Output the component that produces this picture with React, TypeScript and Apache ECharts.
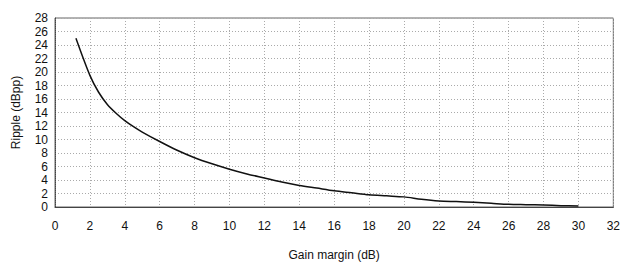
import React, { useEffect, useRef } from "react";
import * as echarts from "echarts";

const gainMargin = [1.2, 2, 2.5, 3, 3.5, 4, 4.5, 5, 6, 7, 8, 9, 10, 11, 12, 13, 14, 15, 16, 17, 18, 19, 20, 21, 22, 23, 24, 25, 26, 27, 28, 29, 30];
const ripple = [25, 19.5, 17, 15.2, 13.9, 12.8, 11.9, 11.1, 9.7, 8.4, 7.3, 6.4, 5.6, 4.9, 4.3, 3.7, 3.2, 2.8, 2.4, 2.1, 1.8, 1.65, 1.5, 1.15, 0.9, 0.8, 0.7, 0.55, 0.4, 0.35, 0.3, 0.2, 0.15];
const xAxisName = "Gain margin (dB)";
const yAxisName = "Ripple (dBpp)";

export default function App() {
  const ref = useRef<HTMLDivElement>(null);
  useEffect(() => {
    if (!ref.current) return;
    const chart = echarts.init(ref.current, null, { renderer: "svg" });
    const font = "Liberation Sans, Arial, sans-serif";
    chart.setOption({
      animation: false,
      backgroundColor: "#ffffff",
      grid: { left: 55, right: 9, top: 18, bottom: 52, show: true, borderColor: "#666", borderWidth: 1, backgroundColor: "transparent" },
      xAxis: {
        type: "value",
        min: 0,
        max: 32,
        interval: 2,
        name: xAxisName,
        nameLocation: "middle",
        nameGap: 42,
        nameTextStyle: { color: "#111", fontSize: 12, fontFamily: font },
        axisLine: { show: true, lineStyle: { color: "#444", width: 1 } },
        axisTick: { show: false },
        axisLabel: { color: "#111", fontSize: 12, fontFamily: font, margin: 13 },
        splitLine: { show: true, lineStyle: { color: "#aaa", type: [1, 2], width: 1 } },
      },
      yAxis: {
        type: "value",
        min: 0,
        max: 28,
        interval: 2,
        name: yAxisName,
        nameLocation: "middle",
        nameGap: 33,
        nameTextStyle: { color: "#111", fontSize: 12, fontFamily: font },
        axisLine: { show: true, lineStyle: { color: "#444", type: "dotted", width: 1 } },
        axisTick: { show: false },
        axisLabel: { color: "#111", fontSize: 12, fontFamily: font, margin: 7 },
        splitLine: { show: true, lineStyle: { color: "#aaa", type: [1, 2], width: 1 } },
      },
      series: [
        {
          type: "line",
          data: gainMargin.map((g, i) => [g, ripple[i]]),
          smooth: 0.3,
          showSymbol: false,
          lineStyle: { color: "#111", width: 1.5 },
        },
      ],
    });
    return () => chart.dispose();
  }, []);
  return (
    <div
      ref={ref}
      style={{ position: "fixed", left: 0, top: 0, width: 623, height: 266, background: "#fff" }}
    />
  );
}
